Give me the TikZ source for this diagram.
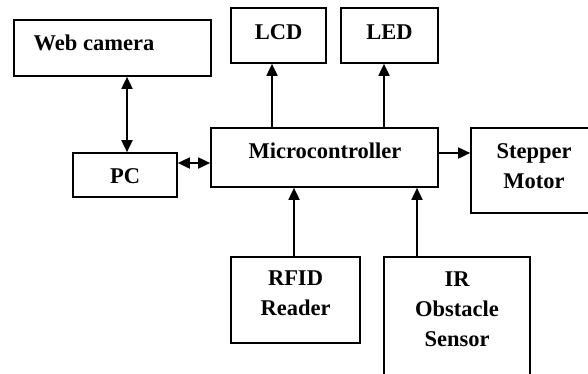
\documentclass[tikz,border=0pt]{standalone}
\usepackage{fontspec}
\setmainfont{Liberation Serif}
\usetikzlibrary{arrows.meta}
\begin{document}
\begin{tikzpicture}[x=1pt,y=-1pt,
  box/.style={draw, line width=1.7pt, inner sep=0pt},
  lbl/.style={font=\bfseries\fontsize{22.5}{30}\selectfont, align=center, inner sep=0pt},
  conn/.style={line width=1.8pt, -{Triangle[length=12pt,width=11pt]}},
  bconn/.style={line width=1.8pt, {Triangle[length=12pt,width=11pt]}-{Triangle[length=12pt,width=11pt]}}]
\useasboundingbox (0,0) rectangle (588,373);
% boxes
\node[box, minimum width=197pt, minimum height=56pt] (web) at (112.5,48) {};
\node[box, minimum width=95pt, minimum height=55pt] (lcd) at (278.5,35.5) {};
\node[box, minimum width=97pt, minimum height=55pt] (led) at (389.5,35.5) {};
\node[box, minimum width=227pt, minimum height=59pt] (mcu) at (324.5,157.5) {};
\node[box, minimum width=104pt, minimum height=44pt] (pc) at (125,175) {};
\node[box, minimum width=126pt, minimum height=85pt] (step) at (534,170.5) {};
\node[box, minimum width=129pt, minimum height=86pt] (rfid) at (295.5,300) {};
\node[box, minimum width=146pt, minimum height=140pt] (ir) at (457,327) {};
% labels
\node[lbl] (tweb) at (94,43) {Web camera};
\node[lbl] (tlcd) at (278.5,32) {LCD};
\node[lbl] (tled) at (389.5,32) {LED};
\node[lbl] (tmcu) at (325,151) {Microcontroller};
\node[lbl] (tpc) at (125,176) {PC};
\node[lbl] (tstep) at (534,166) {Stepper\\Motor};
\node[lbl] (trfid) at (295.5,293) {RFID\\Reader};
\node[lbl] (tir) at (457,309) {IR\\Obstacle\\Sensor};
% connectors
\draw[bconn] (web.south -| 127,0) -- (pc.north -| 127,0);
\draw[bconn] (pc.east |- 0,163) -- (mcu.west |- 0,163);
\draw[conn] (mcu.north -| 272,0) -- (lcd.south -| 272,0);
\draw[conn] (mcu.north -| 384,0) -- (led.south -| 384,0);
\draw[conn] (mcu.east |- 0,153) -- (step.west |- 0,153);
\draw[conn] (rfid.north -| 294,0) -- (mcu.south -| 294,0);
\draw[conn] (ir.north -| 417,0) -- (mcu.south -| 417,0);
\end{tikzpicture}
\end{document}
